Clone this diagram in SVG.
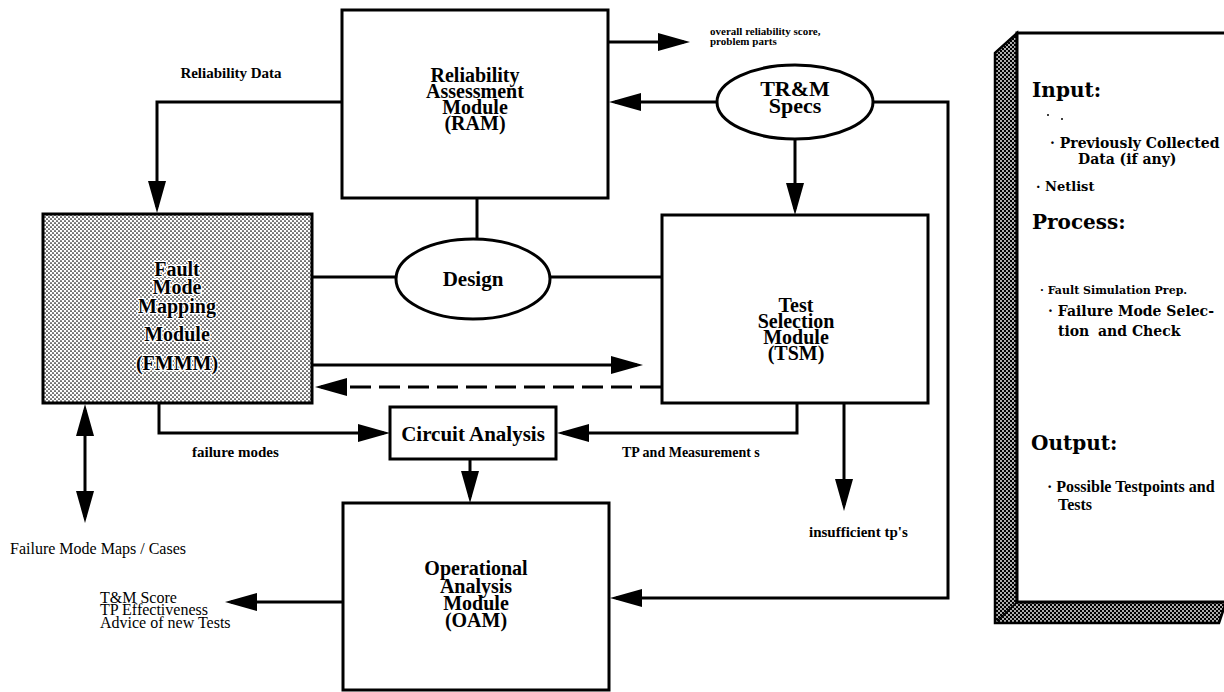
<svg xmlns="http://www.w3.org/2000/svg" width="1224" height="692" viewBox="0 0 1224 692">
<defs>
<style>
.box{fill:#fff;stroke:#000;stroke-width:3}
.conn{fill:none;stroke:#000;stroke-width:3}
.dash{stroke-dasharray:21 8}
.t{font-family:"Liberation Serif","Times New Roman",serif;font-weight:bold;font-size:20px;text-anchor:middle;fill:#000}
.halo{stroke:#fff;stroke-width:2.5;paint-order:stroke;stroke-linejoin:round}
.lb{font-family:"Liberation Serif","Times New Roman",serif;font-weight:bold;fill:#000}
.lr{font-family:"Liberation Serif","Times New Roman",serif;font-weight:normal;font-size:16px;fill:#000}
.ph{font-family:"DejaVu Serif","Liberation Serif",serif;font-weight:bold;font-size:20px;fill:#000}
.pb{font-family:"DejaVu Serif","Liberation Serif",serif;font-weight:bold;fill:#000}
</style>
<pattern id="light" width="4" height="4" patternUnits="userSpaceOnUse">
<rect width="4" height="4" fill="#fff"/>
<circle cx="1" cy="1" r="0.85" fill="#000"/>
<circle cx="3" cy="3" r="0.85" fill="#000"/>
</pattern>
<pattern id="dark" width="4" height="4" patternUnits="userSpaceOnUse">
<rect width="4" height="4" fill="#000"/>
<circle cx="1" cy="1" r="0.9" fill="#fff"/>
<circle cx="3" cy="3" r="0.9" fill="#fff"/>
</pattern>
<marker id="ah" viewBox="0 0 32 18" markerUnits="userSpaceOnUse" markerWidth="32" markerHeight="18" refX="26" refY="9" orient="auto-start-reverse">
<path d="M0,0 L32,9 L0,18 z" fill="#000" stroke="none"/>
</marker>
</defs>
<rect width="1224" height="692" fill="#fff"/>

<g id="connectors">
<path class="conn" d="M342,102 H157 V207" marker-end="url(#ah)"/>
<path class="conn" d="M608,42 H684" marker-end="url(#ah)"/>
<path class="conn" d="M717,102 H615" marker-end="url(#ah)"/>
<path class="conn" d="M795,140 V209" marker-end="url(#ah)"/>
<path class="conn" d="M873,102 H948 V598 H616" marker-end="url(#ah)"/>
<path class="conn" d="M477,198 V239"/>
<path class="conn" d="M312,277 H396"/>
<path class="conn" d="M550,277 H662"/>
<path class="conn" d="M313,365 H637" marker-end="url(#ah)"/>
<path class="conn dash" d="M661,387 H321" marker-end="url(#ah)"/>
<path class="conn" d="M159,403 V433 H384" marker-end="url(#ah)"/>
<path class="conn" d="M797,403 V433 H563" marker-end="url(#ah)"/>
<path class="conn" d="M470,459 V497" marker-end="url(#ah)"/>
<path class="conn" d="M844,403 V505" marker-end="url(#ah)"/>
<path class="conn" d="M85,410 V517" marker-start="url(#ah)" marker-end="url(#ah)"/>
<path class="conn" d="M343,602 H231" marker-end="url(#ah)"/>
</g>

<g id="n-ram">
<rect class="box" x="342" y="10" width="266" height="188"/>
<text class="t" x="475" y="82">Reliability</text>
<text class="t" x="475" y="98">Assessment</text>
<text class="t" x="475" y="114">Module</text>
<text class="t" x="475" y="130">(RAM)</text>
</g>

<g id="n-trm">
<ellipse cx="795" cy="102" rx="78" ry="37" fill="#fff" stroke="#000" stroke-width="3"/>
<text class="t" x="795" y="96" style="font-size:22px">TR&amp;M</text>
<text class="t" x="795" y="113" style="font-size:22px">Specs</text>
</g>

<g id="n-fmmm">
<rect x="43" y="214" width="269" height="189" fill="url(#light)" stroke="#000" stroke-width="3"/>
<text class="t halo" x="177" y="276">Fault</text>
<text class="t halo" x="177" y="294">Mode</text>
<text class="t halo" x="177" y="313">Mapping</text>
<text class="t halo" x="177" y="341">Module</text>
<text class="t halo" x="177" y="370">(FMMM)</text>
</g>

<g id="n-design">
<ellipse cx="473" cy="279" rx="77" ry="40" fill="#fff" stroke="#000" stroke-width="3"/>
<text class="t" x="473" y="286" style="font-size:21px">Design</text>
</g>

<g id="n-tsm">
<rect class="box" x="662" y="215" width="266" height="188"/>
<text class="t" x="796" y="312">Test</text>
<text class="t" x="796" y="328">Selection</text>
<text class="t" x="796" y="344">Module</text>
<text class="t" x="796" y="360">(TSM)</text>
</g>

<g id="n-circuit">
<rect class="box" x="390" y="407" width="166" height="52"/>
<text class="t" x="473" y="441" style="font-size:21px">Circuit Analysis</text>
</g>

<g id="n-oam">
<rect class="box" x="343" y="503" width="266" height="187"/>
<text class="t" x="476" y="575">Operational</text>
<text class="t" x="476" y="593">Analysis</text>
<text class="t" x="476" y="610">Module</text>
<text class="t" x="476" y="627">(OAM)</text>
</g>

<g id="labels">
<text class="lb" x="231" y="78" style="font-size:15px" text-anchor="middle">Reliability Data</text>
<text class="lb" x="710" y="35" style="font-size:11px">overall reliability score,</text>
<text class="lb" x="710" y="45" style="font-size:11px">problem parts</text>
<text class="lb" x="192" y="457" style="font-size:15px">failure modes</text>
<text class="lb" x="622" y="457" style="font-size:14px">TP and Measurement s</text>
<text class="lb" x="809" y="537" style="font-size:15px">insufficient tp's</text>
<text class="lr" x="10" y="554">Failure Mode Maps / Cases</text>
<text class="lr" x="100" y="603">T&amp;M Score</text>
<text class="lr" x="100" y="615">TP Effectiveness</text>
<text class="lr" x="100" y="628">Advice of new Tests</text>
</g>

<g id="panel">
<polygon points="995,53 1017,33 1017,602 1226,602 1219,623 995,623" fill="url(#dark)" stroke="#000" stroke-width="2.5"/>
<rect x="1017" y="33" width="215" height="569" fill="#fff" stroke="#000" stroke-width="3"/>
<line x1="1017" y1="602" x2="997" y2="621" stroke="#000" stroke-width="1.5"/>
<text class="ph" x="1032" y="97">Input:</text>
<circle cx="1048" cy="115" r="1" fill="#000"/>
<circle cx="1062" cy="119" r="1" fill="#000"/>
<text class="pb" x="1050" y="148" style="font-size:14px">· Previously Collected</text>
<text class="pb" x="1078" y="164" style="font-size:14px">Data (if any)</text>
<text class="pb" x="1036" y="191" style="font-size:13px">· Netlist</text>
<text class="ph" x="1032" y="229">Process:</text>
<text class="pb" x="1040" y="294" style="font-size:11px">· Fault Simulation Prep.</text>
<text class="pb" x="1048" y="316" style="font-size:14px">· Failure Mode Selec-</text>
<text class="pb" x="1058" y="336" style="font-size:14px">tion</text>
<text class="pb" x="1098" y="336" style="font-size:14px">and Check</text>
<text class="ph" x="1031" y="450">Output:</text>
<text class="lb" x="1047" y="492" style="font-size:16px">· Possible Testpoints and</text>
<text class="lb" x="1058" y="510" style="font-size:16px">Tests</text>
</g>
</svg>
